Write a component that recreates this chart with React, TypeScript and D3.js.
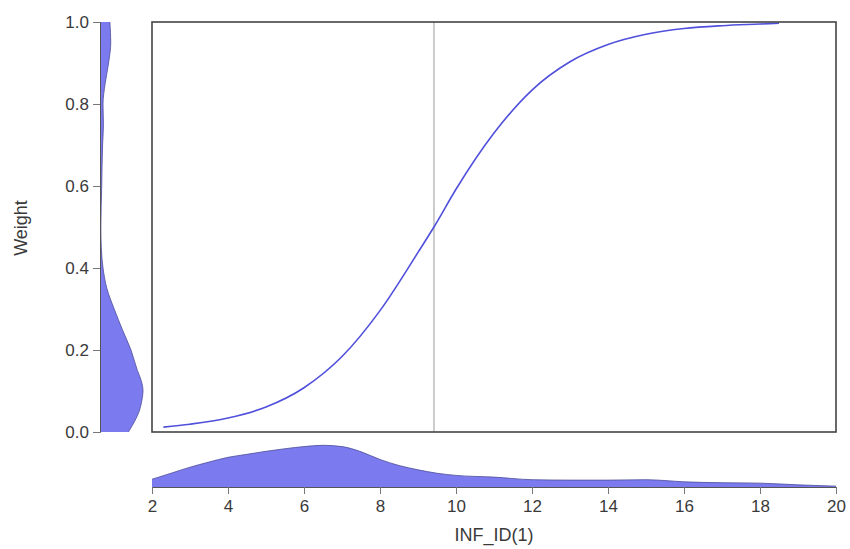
import * as d3 from "d3";
import { useEffect, useRef } from "react";

// transition curve
const curveX = [2.3, 3, 4, 5, 6, 7, 8, 9, 9.42, 10, 11, 12, 13, 14, 15, 16, 17, 18, 18.5];
const curveY = [0.012, 0.019, 0.034, 0.061, 0.108, 0.184, 0.296, 0.438, 0.5, 0.592, 0.729, 0.834, 0.903, 0.945, 0.97, 0.984, 0.991, 0.995, 0.997];

// threshold marker
const threshold = 9.42;

// marginal density of INF_ID(1) (relative)
const xDensX = [2, 2.5, 3, 3.5, 4, 4.5, 5, 5.5, 6, 6.5, 7, 7.5, 8, 8.5, 9, 9.5, 10, 11, 12, 13, 14, 15, 15.5, 16, 17, 18, 19, 20];
const xDensV = [0.18, 0.32, 0.46, 0.58, 0.69, 0.76, 0.83, 0.89, 0.94, 0.97, 0.94, 0.82, 0.64, 0.5, 0.4, 0.32, 0.27, 0.23, 0.17, 0.16, 0.16, 0.17, 0.15, 0.12, 0.1, 0.09, 0.05, 0.02];

// marginal density of Weight (relative)
const yDensY = [0, 0.025, 0.05, 0.075, 0.1, 0.125, 0.15, 0.2, 0.25, 0.3, 0.35, 0.4, 0.45, 0.5, 0.6, 0.7, 0.75, 0.8, 0.85, 0.9, 0.95, 1.0];
const yDensV = [0.66, 0.8, 0.91, 0.97, 1.0, 0.96, 0.87, 0.72, 0.52, 0.33, 0.16, 0.07, 0.03, 0.02, 0.04, 0.06, 0.08, 0.07, 0.12, 0.2, 0.25, 0.23];

const xTicks = [2, 4, 6, 8, 10, 12, 14, 16, 18, 20];
const yTicks = [0, 0.2, 0.4, 0.6, 0.8, 1.0];

const W = 850;
const H = 549;
const box = { left: 152, top: 22, right: 836, bottom: 432 };
const yAxisX = 100;
const xAxisY = 487;
const densMax = 43;

const fillC = "#7b7bef";
const edgeC = "#4d4d99";
const textC = "#3a3a3a";
const font = "'Liberation Sans', Arial, sans-serif";

export default function App() {
  const ref = useRef<SVGSVGElement>(null);

  useEffect(() => {
    const svg = d3.select(ref.current);
    svg.selectAll("*").remove();

    const x = d3.scaleLinear().domain([2, 20]).range([box.left, box.right]);
    const y = d3.scaleLinear().domain([0, 1]).range([box.bottom, box.top]);
    const dens = d3.scaleLinear().domain([0, 1]).range([0, densMax]);

    // vertical threshold line
    svg.append("line")
      .attr("x1", x(threshold)).attr("x2", x(threshold))
      .attr("y1", box.top).attr("y2", box.bottom)
      .attr("stroke", "#bdbdbd").attr("stroke-width", 1.5);

    // curve
    const line = d3.line<number>()
      .x((d, i) => x(curveX[i]))
      .y((d) => y(d))
      .curve(d3.curveMonotoneX);
    svg.append("path")
      .attr("d", line(curveY))
      .attr("fill", "none")
      .attr("stroke", "#5050dc")
      .attr("stroke-width", 1.6);

    // frame
    svg.append("rect")
      .attr("x", box.left).attr("y", box.top)
      .attr("width", box.right - box.left).attr("height", box.bottom - box.top)
      .attr("fill", "none").attr("stroke", "#444").attr("stroke-width", 1.6);

    // bottom density
    const xArea = d3.area<number>()
      .x((d, i) => x(xDensX[i]))
      .y0(xAxisY)
      .y1((d) => xAxisY - dens(d))
      .curve(d3.curveMonotoneX);
    svg.append("path")
      .attr("d", xArea(xDensV))
      .attr("fill", fillC)
      .attr("stroke", "none");
    const xTop = d3.line<number>()
      .x((d, i) => x(xDensX[i]))
      .y((d) => xAxisY - dens(d))
      .curve(d3.curveMonotoneX);
    svg.append("path")
      .attr("d", xTop(xDensV))
      .attr("fill", "none")
      .attr("stroke", edgeC).attr("stroke-width", 0.8);

    // left density
    const yArea = d3.area<number>()
      .y((d, i) => y(yDensY[i]))
      .x0(yAxisX)
      .x1((d) => yAxisX + dens(d))
      .curve(d3.curveMonotoneY);
    svg.append("path")
      .attr("d", yArea(yDensV))
      .attr("fill", fillC)
      .attr("stroke", "none");
    const yTop = d3.line<number>()
      .y((d, i) => y(yDensY[i]))
      .x((d) => yAxisX + dens(d))
      .curve(d3.curveMonotoneY);
    svg.append("path")
      .attr("d", yTop(yDensV))
      .attr("fill", "none")
      .attr("stroke", edgeC).attr("stroke-width", 0.8);

    // x axis
    const gx = svg.append("g")
      .attr("transform", `translate(0, ${xAxisY})`)
      .call(d3.axisBottom(x).tickValues(xTicks).tickFormat(d3.format("d")).tickSize(7).tickPadding(6));
    gx.select(".domain").attr("stroke", "#555");
    gx.selectAll(".tick line").attr("stroke", "#777");
    gx.selectAll("text").attr("fill", textC).attr("font-size", 17).attr("font-family", font);

    // y axis
    const gy = svg.append("g")
      .attr("transform", `translate(${yAxisX}, 0)`)
      .call(d3.axisLeft(y).tickValues(yTicks).tickFormat(d3.format(".1f")).tickSize(7).tickPadding(4));
    gy.select(".domain").attr("stroke", "#555");
    gy.selectAll(".tick line").attr("stroke", "#777");
    gy.selectAll("text").attr("fill", textC).attr("font-size", 17).attr("font-family", font);

    // axis titles
    svg.append("text")
      .attr("x", 494).attr("y", 541)
      .attr("text-anchor", "middle")
      .attr("fill", textC).attr("font-size", 18).attr("font-family", font)
      .text("INF_ID(1)");
    svg.append("text")
      .attr("transform", `translate(27, 228) rotate(-90)`)
      .attr("text-anchor", "middle")
      .attr("fill", textC).attr("font-size", 18).attr("font-family", font)
      .text("Weight");
  }, []);

  return (
    <svg
      ref={ref}
      width={W}
      height={H}
      style={{ position: "absolute", left: 0, top: 0, background: "#fff" }}
    />
  );
}
